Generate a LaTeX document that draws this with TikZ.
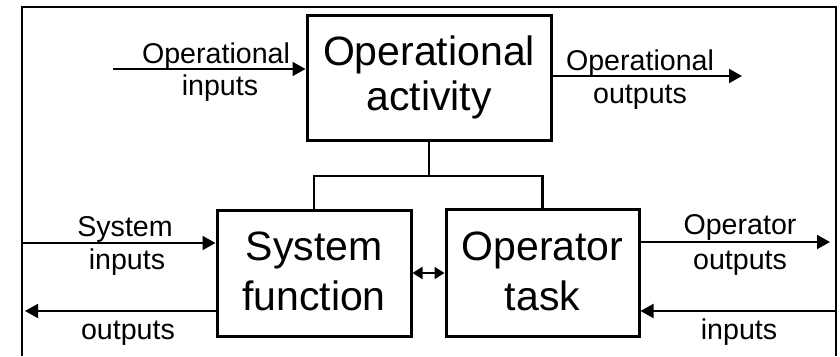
\documentclass[tikz,border=0pt]{standalone}
\usepackage{fontspec}
\setmainfont{Liberation Sans}
\usetikzlibrary{arrows.meta}
\begin{document}
\begin{tikzpicture}[x=1pt,y=-1pt,
  box/.style={draw,line width=3pt,rectangle,inner sep=0pt},
  big/.style={font=\fontsize{41}{46}\selectfont,inner sep=0pt,anchor=base},
  small/.style={font=\fontsize{28.6}{32}\selectfont,inner sep=0pt,anchor=base},
  arr/.style={line width=2pt,-{Triangle[length=13pt,width=14pt]}},
  darr/.style={line width=2pt,{Triangle[length=10pt,width=12pt]}-{Triangle[length=10pt,width=12pt]}},
  wire/.style={line width=2.5pt}]
\useasboundingbox (0,0) rectangle (840,356);
\fill[white] (0,0) rectangle (840,356);
% frame
\draw[line width=2pt] (22,356) -- (22,7) -- (836,7) -- (836,356);
% boxes
\node[box,minimum width=244pt,minimum height=125pt] (oa) at (429,77.5) {};
\node[box,minimum width=194pt,minimum height=126pt] (sf) at (314,273) {};
\node[box,minimum width=193pt,minimum height=127pt] (ot) at (542.5,273) {};
% box texts
\node[big] (oat1) at (429,65) {Operational};
\node[big] (oat2) at (429,110) {activity};
\node[big] (sft1) at (314,260) {System};
\node[big] (sft2) at (314,310) {function};
\node[big] (ott1) at (542.5,260) {Operator};
\node[big] (ott2) at (542.5,310) {task};
% tree
\coordinate (jn) at (429,176);
\draw[wire] (oa.south) -- (jn);
\draw[wire] (sf.north) |- (jn) -| (ot.north);
% double arrow
\draw[darr] (sf.east) -- (ot.west);
% operational inputs / outputs
\coordinate (oin) at (113,69);
\draw[arr] (oin) -- (oin -| oa.west);
\coordinate (oout) at (742,76);
\draw[arr] (oa.east |- oout) -- (oout);
% system inputs / outputs
\coordinate (sin) at (22,243);
\draw[arr] (sin) -- (sin -| sf.west);
\coordinate (sout) at (25,311);
\draw[arr] (sf.west |- sout) -- (sout);
% operator outputs / inputs
\coordinate (tout) at (830,242);
\draw[arr] (ot.east |- tout) -- (tout);
\coordinate (tin) at (836,311);
\draw[arr] (tin) -- (tin -| ot.east);
% labels
\node[small] (l1) at (216,63) {Operational};
\node[small] (l2) at (220,95) {inputs};
\node[small] (l3) at (640,70) {Operational};
\node[small] (l4) at (640,103) {outputs};
\node[small] (l5) at (125,236) {System};
\node[small] (l6) at (127,269) {inputs};
\node[small] (l7) at (128,339) {outputs};
\node[small] (l8) at (740,234) {Operator};
\node[small] (l9) at (740,269) {outputs};
\node[small] (l10) at (739,339) {inputs};
\end{tikzpicture}
\end{document}
